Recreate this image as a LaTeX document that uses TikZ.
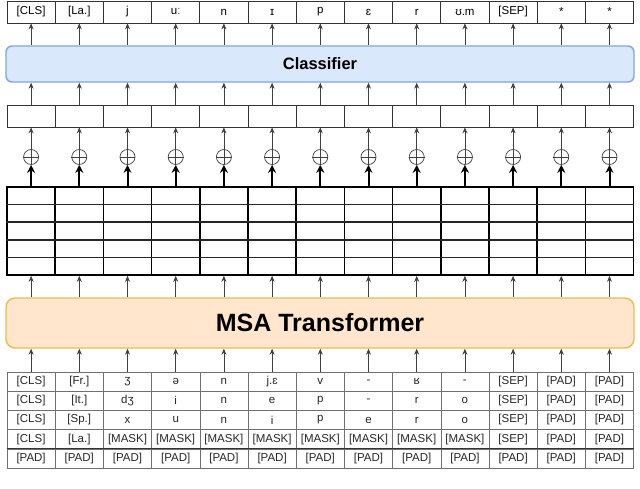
\documentclass[tikz,border=0pt]{standalone}
\usepackage{fontspec}
\setmainfont{Liberation Sans}
\usetikzlibrary{arrows.meta}
\definecolor{clsfill}{HTML}{DAE8FC}
\definecolor{clsdraw}{HTML}{7EA6E0}
\definecolor{msafill}{HTML}{FFE6CC}
\definecolor{msadraw}{HTML}{EBBC55}
\definecolor{tabline}{HTML}{707070}
\begin{document}
\begin{tikzpicture}[x=1pt,y=-1pt,
  cell/.style={draw=black!80,line width=0.7pt,minimum width=48.2pt,minimum height=22pt,inner sep=0pt,font=\fontsize{11.5}{12}\selectfont},
  tcell/.style={draw=tabline,line width=0.6pt,minimum width=48.2pt,minimum height=19.2pt,inner sep=0pt,font=\fontsize{11.5}{12}\selectfont,text=black!85},
  gcol/.style={draw=black,line width=1.6pt,minimum width=48.2pt,minimum height=88pt,inner sep=0pt},
  opl/.style={circle,draw=black!75,line width=0.7pt,minimum size=15pt,inner sep=0pt},
  thinarr/.style={draw=black!75,line width=0.8pt,-{Stealth[length=6pt,width=5pt]}},
  thickarr/.style={draw=black,line width=2pt,-{Stealth[length=8pt,width=8pt]}},
  bigbox/.style={rounded corners=6pt,line width=1.4pt,inner sep=0pt}]
\useasboundingbox (0,0) rectangle (640,488);
% top output row
\foreach \t [count=\i] in {{[CLS]},{[La.]},j,uː,n,ɪ,p,ɛ,r,ʊ.m,{[SEP]},*,*}{
  \node[cell] (t\i) at ({7+(\i-0.5)*48.2},12) {\t};
}
% classifier
\node[bigbox,draw=clsdraw,fill=clsfill,minimum width=628pt,minimum height=36pt,font=\fontsize{16.5}{18}\bfseries\selectfont] (cls) at (320,64) {Classifier};
% second row, sum nodes, embedding grid columns
\foreach \i in {1,...,13}{
  \node[cell] (s\i) at ({7+(\i-0.5)*48.2},116) {};
  \node[opl] (o\i) at ({7+(\i-0.5)*48.2},157) {};
  \draw[black!75,line width=0.6pt] (o\i.north) -- (o\i.south) (o\i.west) -- (o\i.east);
  \node[gcol] (g\i) at ({7+(\i-0.5)*48.2},231) {};
}
\foreach \yy in {204.6,222,240,257.4}{
  \draw[black!85,line width=1.1pt] (g1.west |- 0,\yy) -- (g13.east |- 0,\yy);
}
% MSA transformer
\node[bigbox,rounded corners=9pt,draw=msadraw,fill=msafill,minimum width=628pt,minimum height=50pt,font=\fontsize{25}{28}\bfseries\selectfont] (msa) at (320,323) {MSA Transformer};
% bottom table
\foreach \row [count=\r] in {
  {{[CLS]},{[Fr.]},ʒ,ə,n,j.ɛ,v,-,ʁ,-,{[SEP]},{[PAD]},{[PAD]}},
  {{[CLS]},{[It.]},dʒ,i,n,e,p,-,r,o,{[SEP]},{[PAD]},{[PAD]}},
  {{[CLS]},{[Sp.]},x,u,n,i,p,e,r,o,{[SEP]},{[PAD]},{[PAD]}},
  {{[CLS]},{[La.]},{[MASK]},{[MASK]},{[MASK]},{[MASK]},{[MASK]},{[MASK]},{[MASK]},{[MASK]},{[SEP]},{[PAD]},{[PAD]}},
  {{[PAD]},{[PAD]},{[PAD]},{[PAD]},{[PAD]},{[PAD]},{[PAD]},{[PAD]},{[PAD]},{[PAD]},{[PAD]},{[PAD]},{[PAD]}}}{
  \foreach \t [count=\c] in \row {
    \node[tcell] (b\r-\c) at ({7+(\c-0.5)*48.2},{372+(\r-0.5)*19.2}) {\t};
  }
}
\draw[black!80,line width=1.2pt] (b5-1.north west) -- (b5-13.north east);
% arrows
\foreach \i in {1,...,13}{
  \draw[thinarr] (cls.north -| t\i.south) -- (t\i.south);
  \draw[thinarr] (s\i.north) -- (cls.south -| s\i.north);
  \draw[thinarr] (o\i.north) -- (s\i.south);
  \draw[thickarr] (g\i.north) -- (o\i.south);
  \draw[thinarr] (msa.north -| g\i.south) -- (g\i.south);
  \draw[thinarr] (b1-\i.north) -- (msa.south -| b1-\i.north);
}
\end{tikzpicture}
\end{document}
